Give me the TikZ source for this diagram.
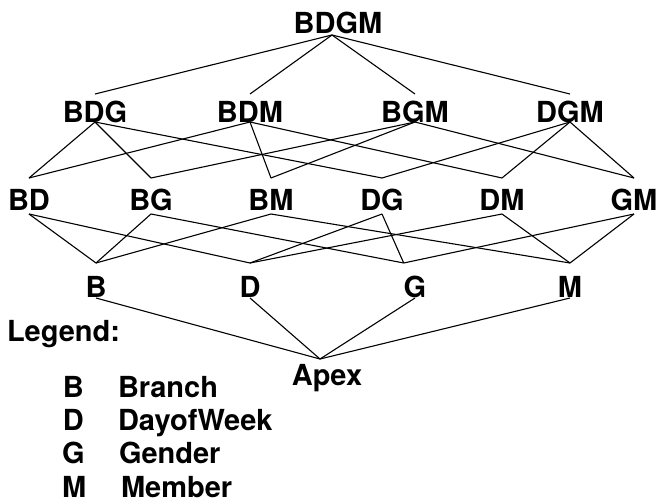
\documentclass[tikz,border=0pt]{standalone}
\usepackage{fontspec}
\setmainfont{TeX Gyre Heros}
\tikzset{
    lbl/.style={anchor=base, inner sep=0pt, outer sep=0pt, font=\fontsize{29}{33}\selectfont\bfseries},
    lvlone/.style={lbl, text height=21pt, text depth=2pt},
    lvltwo/.style={lbl, text height=28pt, text depth=0pt},
    lvlthree/.style={lbl, text height=32pt, text depth=4pt},
    lvlfour/.style={lbl, text height=34pt, text depth=1pt},
    lvlapex/.style={lbl, text height=26pt, text depth=0pt},
    key/.style={lbl, anchor=base west},
    edge/.style={line width=1.1pt}
}
\begin{document}
\begin{tikzpicture}[x=1pt, y=-1pt]
            \useasboundingbox (0,0) rectangle (657,504);
            % lattice
            \node[lvlone] at (338,33) (bdgm) {BDGM};
            \node[lvltwo] at (95,122) (bdg) {BDG};
            \node[lvltwo] at (250,122) (bdm) {BDM};
            \node[lvltwo] at (415,122) (bgm) {BGM};
            \node[lvltwo] at (570,122) (dgm) {DGM};
            \node[lvlthree] at (29,210) (bd) {BD};
            \node[lvlthree] at (151,210) (bg) {BG};
            \node[lvlthree] at (271,210) (bm) {BM};
            \node[lvlthree] at (382,210) (dg) {DG};
            \node[lvlthree] at (502,210) (dm) {DM};
            \node[lvlthree] at (634,210) (gm) {GM};
            \node[lvlfour] at (96,297) (b) {B};
            \node[lvlfour] at (250,297) (d) {D};
            \node[lvlfour] at (415,297) (g) {G};
            \node[lvlfour] at (570,297) (m) {M};
            \node[lvlapex] at (327,385) (apex) {Apex};
            \foreach \down in {bdg, bdm, bgm, dgm}
                \draw[edge] ([xshift=-6pt]bdgm.south) -- (\down.north);
            \foreach \up/\down in {bdg/bd, bdg/bg, bdg/dg, bdm/bd, bdm/bm, bdm/dm,
                    bgm/bg, bgm/bm, bgm/gm, dgm/dg, dgm/dm, dgm/gm,
                    bd/b, bd/d, bg/b, bm/b, bm/m, dg/d, dm/d, dm/m, gm/m}
                \draw[edge] (\up.south) -- (\down.north);
            \foreach \up in {bg, dg, gm}
                \draw[edge] (\up.south) -- (g.north west);
            \foreach \up in {b, d, g, m}
                \draw[edge] (\up.south) -- ([xshift=-7pt]apex.north);
            % legend
            \node[key] at (7,341) (legend) {Legend:};
            \node[key] at (63,397) (keyb) {B};
            \node[key] at (118,397) (nameb) {Branch};
            \node[key] at (63,430) (keyd) {D};
            \node[key] at (118,430) (named) {DayofWeek};
            \node[key] at (62,463) (keyg) {G};
            \node[key] at (119,463) (nameg) {Gender};
            \node[key] at (62,497) (keym) {M};
            \node[key] at (121,497) (namem) {Member};
        \end{tikzpicture}
\end{document}
